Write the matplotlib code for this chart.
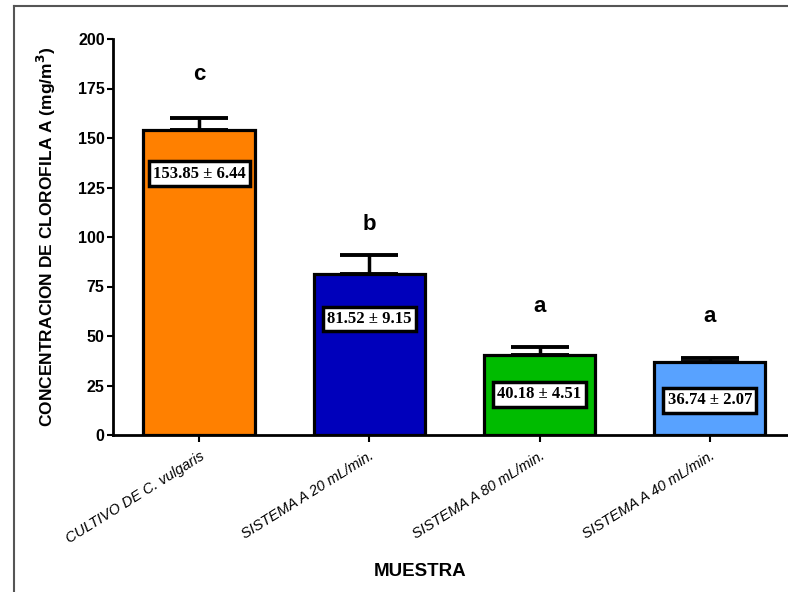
import numpy as np
import matplotlib.pyplot as plt
import matplotlib
from matplotlib.lines import Line2D

matplotlib.rcParams['font.family'] = 'Liberation Sans'
matplotlib.rcParams['font.weight'] = 'bold'

muestras = ['CULTIVO DE C. vulgaris', 'SISTEMA A 20 mL/min.',
            'SISTEMA A 80 mL/min.', 'SISTEMA A 40 mL/min.']
medias = [153.85, 81.52, 40.18, 36.74]
desv = [6.44, 9.15, 4.51, 2.07]
colores = ['#FF8000', '#0000BB', '#00BB00', '#58A2FF']
letras = ['c', 'b', 'a', 'a']
letra_y = [182, 106.5, 65, 60]
caja_y = [132, 58.5, 20.5, 17.5]

fig = plt.figure(figsize=(7.88, 5.92), dpi=100)
ax = fig.add_axes([113/788, 1-435/592, 1-113/788, (435-39)/592])

x = np.arange(len(medias))
ax.bar(x, medias, width=0.655, color=colores, edgecolor='black', linewidth=2.3, zorder=2)
ax.errorbar(x, medias, yerr=[np.zeros(len(desv)), desv], fmt='none', ecolor='black',
            elinewidth=2.5, capsize=21, capthick=2.8, zorder=1)

for i in range(len(medias)):
    ax.text(x[i], letra_y[i], letras[i], ha='center', va='center', fontsize=16,
            fontweight='bold')
    ax.text(x[i], caja_y[i], '%.2f ± %.2f' % (medias[i], desv[i]), ha='center',
            va='center', fontsize=12, fontweight='bold', family='Liberation Serif',
            bbox=dict(boxstyle='square,pad=0.25', facecolor='white', edgecolor='black',
                      linewidth=2.5), zorder=3)

ax.set_ylim(0, 200)
ax.set_xlim(-0.506, 3.46)
ax.set_yticks(np.arange(0, 201, 25))
ax.set_xticks(x)
ax.set_xticklabels(muestras, rotation=32, ha='right', rotation_mode='anchor',
                   fontsize=10.5, fontstyle='italic', fontweight='normal')
ax.tick_params(axis='y', labelsize=11.5, width=1.5, length=4, pad=2)
ax.tick_params(axis='x', width=1.5, length=5, pad=5)
for s in ['top', 'right']:
    ax.spines[s].set_visible(False)
for s in ['left', 'bottom']:
    ax.spines[s].set_linewidth(2)

ax.set_ylabel('CONCENTRACION DE CLOROFILA A (mg/m$^{\\mathbf{3}}$)', fontsize=12.5,
              fontweight='bold', labelpad=14)
fig.text(420/788, 1-572/592, 'MUESTRA', ha='center', va='center', fontsize=13.5,
         fontweight='bold')

# marco gris de la captura
fig.add_artist(Line2D([14/788, 14/788], [0, 1-6/592], color='#555555', lw=1.5,
                      transform=fig.transFigure))
fig.add_artist(Line2D([14/788, 1], [1-6/592, 1-6/592], color='#555555', lw=1.5,
                      transform=fig.transFigure))

fig.savefig('out.png', dpi=100)
